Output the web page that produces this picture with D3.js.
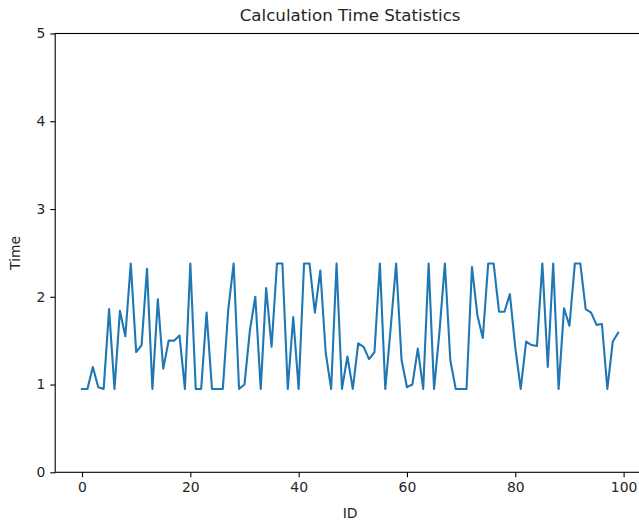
<!DOCTYPE html>
<html lang="en">
<head>
    <meta charset="UTF-8"/>
    <title>Calculation Time Statistics</title>
    <script src="https://d3js.org/d3.v7.min.js"></script>
    <style>
        body { margin: 0; background: #fff; }
        text { font-family: "DejaVu Sans", sans-serif; fill: #262626; }
    </style>
</head>
<body>
<script>

    var w = 639;
    var h = 523;

    // calculation time for each ID (0..99)
    var times = [
        0.95, 0.95, 1.20, 0.97, 0.95, 1.86, 0.95, 1.84, 1.55, 2.38,
        1.37, 1.45, 2.32, 0.95, 1.97, 1.18, 1.50, 1.50, 1.56, 0.95,
        2.38, 0.95, 0.95, 1.82, 0.95, 0.95, 0.95, 1.85, 2.38, 0.95,
        1.00, 1.62, 2.00, 0.95, 2.10, 1.43, 2.38, 2.38, 0.95, 1.77,
        0.95, 2.38, 2.38, 1.82, 2.30, 1.36, 0.95, 2.38, 0.95, 1.32,
        0.95, 1.47, 1.43, 1.29, 1.37, 2.38, 0.95, 1.65, 2.38, 1.28,
        0.97, 1.00, 1.41, 0.95, 2.38, 0.95, 1.60, 2.38, 1.28, 0.95,
        0.95, 0.95, 2.34, 1.79, 1.53, 2.38, 2.38, 1.83, 1.83, 2.03,
        1.42, 0.95, 1.49, 1.45, 1.44, 2.38, 1.20, 2.38, 0.95, 1.87,
        1.67, 2.38, 2.38, 1.86, 1.82, 1.68, 1.69, 0.95, 1.49, 1.59
    ];
    var ids = d3.range(times.length);

    var xTicks = [0, 20, 40, 60, 80, 100];
    var yTicks = [0, 1, 2, 3, 4, 5];

    // plot box (the right edge runs past the window, as in the picture)
    var boxL = 55.2, boxR = 645, boxT = 33.5, boxB = 472.3;

    var xScale = d3.scaleLinear()
                    .domain([-4.95, 103.95])
                    .range([boxL, boxR]);

    var yScale = d3.scaleLinear()
                    .domain([0, 5])
                    .range([boxB, boxT]);

    var svg = d3.select("body")
                .append("svg")
                .attr("width", w)
                .attr("height", h);

    // data line
    var line = d3.line()
        .x(function(d, i){ return xScale(ids[i]); })
        .y(function(d){ return yScale(d); });

    svg.append("path")
        .datum(times)
        .attr("d", line)
        .attr("fill", "none")
        .attr("stroke", "#1f77b4")
        .attr("stroke-width", 2.1)
        .attr("stroke-linejoin", "round")
        .attr("stroke-linecap", "square");

    // axes
    var xAxis = d3.axisBottom(xScale)
        .tickValues(xTicks)
        .tickSize(4.9)
        .tickPadding(4.9)
        .tickSizeOuter(0);

    var yAxis = d3.axisLeft(yScale)
        .tickValues(yTicks)
        .tickFormat(d3.format("d"))
        .tickSize(4.9)
        .tickPadding(4.9)
        .tickSizeOuter(0);

    var gx = svg.append("g")
        .attr("transform", "translate(0," + boxB + ")")
        .call(xAxis);

    var gy = svg.append("g")
        .attr("transform", "translate(" + boxL + ",0)")
        .call(yAxis);

    [gx, gy].forEach(function(g){
        g.select(".domain").remove();
        g.selectAll("line").attr("stroke", "#000").attr("stroke-width", 1.1);
        g.selectAll("text")
            .style("font-size", "13.9px")
            .style("font-family", "DejaVu Sans, sans-serif")
            .attr("fill", "#262626");
    });

    // spines
    svg.append("rect")
        .attr("x", boxL)
        .attr("y", boxT)
        .attr("width", boxR - boxL)
        .attr("height", boxB - boxT)
        .attr("fill", "none")
        .attr("stroke", "#000")
        .attr("stroke-width", 1.1);

    // title and labels
    svg.append("text")
        .attr("x", (boxL + boxR) / 2)
        .attr("y", 21)
        .attr("text-anchor", "middle")
        .style("font-size", "16.7px")
        .text("Calculation Time Statistics");

    svg.append("text")
        .attr("x", (boxL + boxR) / 2)
        .attr("y", 518)
        .attr("text-anchor", "middle")
        .style("font-size", "13.9px")
        .text("ID");

    svg.append("text")
        .attr("transform", "translate(20," + (boxT + boxB) / 2 + ") rotate(-90)")
        .attr("text-anchor", "middle")
        .style("font-size", "13.9px")
        .text("Time");

</script>
</body>
</html>
